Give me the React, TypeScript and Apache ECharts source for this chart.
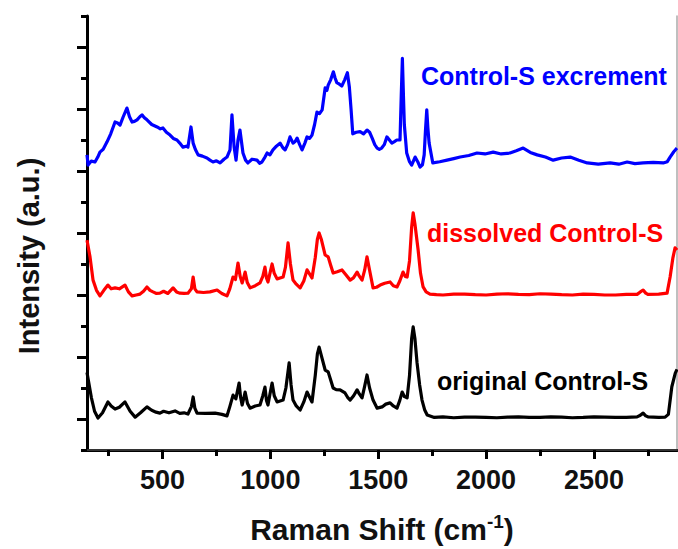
import React, { useEffect, useRef } from "react";
import * as echarts from "echarts";

const xMajorTicks = [500, 1000, 1500, 2000, 2500];
const xMinorTicks = [250, 750, 1250, 1750, 2250, 2750];
const yMajorTicks = [1, 3, 5, 7, 9, 11, 13];

const seriesNames = ["Control-S excrement", "dissolved Control-S", "original Control-S"];
const seriesColors = ["#0000ff", "#ff0000", "#000000"];

const excrementSpectrum: [number, number][] = [
  [150, 9.52], [155, 9.19], [170, 9.32], [187, 9.29], [200, 9.45], [210, 9.61], [225, 9.7],
  [243, 9.94], [260, 10.2], [280, 10.58], [292, 10.55], [303, 10.48], [318, 10.75],
  [335, 11.03], [347, 10.75], [359, 10.58], [370, 10.6], [382, 10.65], [395, 10.75], [405, 10.81],
  [416, 10.72], [428, 10.65], [450, 10.5], [475, 10.42], [490, 10.36], [502, 10.39], [518, 10.25],
  [535, 10.16], [550, 10.05], [567, 10.0], [580, 9.9], [595, 9.77], [610, 9.8], [618, 9.77],
  [632, 10.42], [642, 9.9], [652, 9.7], [665, 9.52], [685, 9.48], [706, 9.42], [720, 9.35],
  [734, 9.29], [750, 9.33], [767, 9.26], [785, 9.38], [799, 9.45], [813, 9.68], [822, 10.81],
  [832, 9.77], [841, 9.35], [850, 10.0], [859, 10.32], [873, 9.58], [885, 9.35], [896, 9.26],
  [915, 9.38], [938, 9.35], [950, 9.25], [961, 9.29], [975, 9.45], [985, 9.58], [998, 9.52],
  [1012, 9.68], [1028, 9.8], [1045, 9.9], [1058, 9.75], [1068, 9.68], [1080, 9.85], [1091, 10.1],
  [1105, 9.9], [1115, 9.95], [1124, 10.06], [1136, 9.85], [1147, 9.68], [1160, 9.9], [1170, 10.1],
  [1182, 10.05], [1193, 10.16], [1205, 10.5], [1216, 10.9], [1228, 10.85], [1240, 10.97],
  [1254, 11.68], [1262, 11.6], [1268, 11.77], [1280, 11.95], [1292, 12.2], [1300, 12.0],
  [1308, 11.85], [1320, 11.8], [1331, 11.74], [1345, 11.95], [1357, 12.17], [1366, 11.72],
  [1374, 11.0], [1382, 10.2], [1398, 10.25], [1416, 10.27], [1432, 10.2], [1448, 10.32],
  [1460, 10.25], [1472, 10.06], [1484, 9.85], [1495, 9.74], [1505, 9.7], [1516, 9.74],
  [1528, 9.85], [1540, 10.1], [1552, 10.0], [1563, 9.9], [1575, 9.95], [1586, 10.0], [1601, 10.0],
  [1607, 11.5], [1612, 12.63], [1617, 11.4], [1621, 10.5], [1632, 9.58], [1645, 9.3],
  [1655, 9.19], [1671, 9.45], [1683, 9.3], [1694, 9.13], [1705, 9.2], [1713, 9.52], [1719, 10.3],
  [1725, 10.97], [1730, 10.4], [1736, 9.9], [1753, 9.26], [1785, 9.3], [1819, 9.35], [1850, 9.4],
  [1880, 9.45], [1920, 9.5], [1958, 9.58], [1995, 9.55], [2033, 9.61], [2070, 9.55],
  [2111, 9.58], [2140, 9.65], [2172, 9.74], [2205, 9.6], [2237, 9.52], [2275, 9.45],
  [2311, 9.35], [2350, 9.42], [2390, 9.45], [2430, 9.35], [2469, 9.26], [2520, 9.22],
  [2575, 9.26], [2615, 9.22], [2654, 9.29], [2690, 9.24], [2728, 9.26], [2775, 9.28],
  [2821, 9.26], [2840, 9.3], [2853, 9.45], [2870, 9.62], [2885, 9.74],
];

const dissolvedSpectrum: [number, number][] = [
  [150, 6.77], [164, 6.23], [178, 5.48], [194, 5.15], [210, 4.97], [228, 5.15], [247, 5.32],
  [262, 5.2], [280, 5.23], [300, 5.2], [326, 5.32], [342, 5.1], [359, 4.97], [378, 5.0],
  [396, 5.03], [412, 5.12], [428, 5.26], [442, 5.15], [456, 5.1], [472, 5.05], [488, 5.06],
  [505, 5.12], [525, 5.05], [549, 5.23], [565, 5.1], [581, 5.06], [600, 5.05], [618, 5.06],
  [634, 5.2], [642, 5.58], [650, 5.2], [660, 5.1], [690, 5.08], [720, 5.1], [753, 5.16],
  [775, 5.05], [799, 4.97], [812, 5.2], [827, 5.58], [838, 5.5], [850, 6.03], [860, 5.6],
  [869, 5.39], [876, 5.55], [883, 5.74], [893, 5.4], [906, 5.23], [930, 5.3], [952, 5.39],
  [965, 5.6], [975, 5.9], [982, 5.55], [989, 5.42], [998, 5.7], [1008, 6.0], [1018, 5.7],
  [1031, 5.52], [1045, 5.55], [1059, 5.58], [1070, 5.9], [1082, 6.68], [1093, 6.0], [1105, 5.48],
  [1120, 5.35], [1138, 5.23], [1155, 5.45], [1170, 5.81], [1180, 5.7], [1193, 5.55], [1208, 6.2],
  [1218, 6.8], [1226, 7.0], [1236, 6.8], [1254, 6.29], [1268, 6.23], [1280, 5.95], [1291, 5.71],
  [1310, 5.75], [1332, 5.81], [1350, 5.65], [1370, 5.48], [1385, 5.55], [1402, 5.74],
  [1413, 5.6], [1425, 5.48], [1437, 5.8], [1448, 6.23], [1460, 5.8], [1476, 5.23], [1492, 5.25],
  [1509, 5.32], [1530, 5.38], [1555, 5.42], [1570, 5.3], [1587, 5.26], [1600, 5.45], [1615, 5.74],
  [1625, 5.6], [1634, 5.58], [1645, 6.1], [1655, 7.2], [1662, 7.65], [1670, 7.3], [1685, 6.45],
  [1696, 5.7], [1708, 5.26], [1722, 5.1], [1740, 5.03], [1770, 5.01], [1800, 5.0], [1850, 5.03],
  [1900, 5.03], [1950, 5.01], [2000, 5.0], [2050, 5.03], [2100, 5.04], [2150, 5.02],
  [2200, 5.01], [2250, 5.04], [2300, 5.03], [2350, 5.01], [2400, 5.0], [2450, 5.03],
  [2500, 5.02], [2550, 5.0], [2600, 5.0], [2650, 5.02], [2700, 5.02], [2715, 5.1],
  [2728, 5.16], [2740, 5.06], [2750, 5.02], [2800, 5.03], [2839, 5.06], [2853, 5.58],
  [2866, 6.2], [2876, 6.52], [2885, 6.45],
];

const originalSpectrum: [number, number][] = [
  [150, 2.5], [156, 2.26], [170, 1.7], [185, 1.25], [201, 1.03], [222, 1.2], [247, 1.55],
  [262, 1.42], [280, 1.32], [300, 1.38], [326, 1.55], [350, 1.25], [373, 1.06], [398, 1.2],
  [428, 1.39], [450, 1.28], [470, 1.22], [488, 1.19], [505, 1.25], [530, 1.2], [558, 1.26],
  [580, 1.18], [600, 1.2], [618, 1.16], [634, 1.4], [642, 1.71], [650, 1.35], [660, 1.19],
  [700, 1.18], [744, 1.19], [775, 1.15], [799, 1.1], [812, 1.4], [827, 1.77], [840, 1.65],
  [855, 2.16], [862, 1.7], [869, 1.45], [876, 1.65], [883, 1.87], [894, 1.5], [906, 1.35],
  [930, 1.42], [952, 1.45], [965, 1.75], [975, 2.03], [982, 1.6], [989, 1.45], [998, 1.8],
  [1008, 2.16], [1018, 1.75], [1031, 1.55], [1045, 1.58], [1059, 1.61], [1072, 2.0],
  [1087, 2.81], [1096, 2.1], [1105, 1.61], [1120, 1.42], [1138, 1.29], [1155, 1.55],
  [1170, 1.87], [1182, 1.7], [1193, 1.55], [1208, 2.4], [1218, 3.1], [1226, 3.32], [1236, 3.05],
  [1254, 2.58], [1268, 2.52], [1280, 2.25], [1291, 2.0], [1305, 1.95], [1323, 1.94],
  [1346, 1.84], [1358, 1.7], [1370, 1.61], [1386, 1.75], [1402, 1.94], [1413, 1.8], [1425, 1.68],
  [1437, 2.05], [1448, 2.42], [1460, 2.0], [1476, 1.61], [1495, 1.35], [1518, 1.39],
  [1535, 1.48], [1555, 1.52], [1570, 1.42], [1587, 1.35], [1600, 1.6], [1611, 1.87],
  [1622, 1.72], [1634, 1.68], [1645, 2.4], [1655, 3.6], [1662, 3.97], [1670, 3.6], [1680, 2.81],
  [1692, 2.1], [1703, 1.61], [1715, 1.3], [1727, 1.13], [1760, 1.05], [1800, 1.07],
  [1850, 1.04], [1900, 1.06], [1950, 1.06], [2000, 1.05], [2050, 1.04], [2100, 1.06],
  [2150, 1.07], [2200, 1.05], [2250, 1.05], [2300, 1.07], [2350, 1.06], [2400, 1.04],
  [2450, 1.05], [2500, 1.07], [2550, 1.06], [2600, 1.05], [2650, 1.05], [2700, 1.07],
  [2715, 1.12], [2728, 1.19], [2740, 1.1], [2750, 1.07], [2800, 1.05], [2830, 1.06],
  [2845, 1.15], [2861, 2.04], [2877, 2.48], [2885, 2.6],
];

const spectra = [excrementSpectrum, dissolvedSpectrum, originalSpectrum];
const labelPositions = [
  { x: 421, y: 76 },
  { x: 427, y: 233 },
  { x: 437, y: 381 },
];

const FONT = "'Liberation Sans', Arial, sans-serif";

export default function App() {
  const ref = useRef<HTMLDivElement>(null);
  useEffect(() => {
    if (!ref.current) return;
    const chart = echarts.init(ref.current, undefined, { renderer: "svg" });
    chart.setOption({
      animation: false,
      backgroundColor: "#ffffff",
      grid: { left: 87, right: 1, top: 16, bottom: 99 },
      xAxis: [
        {
          type: "value",
          min: 150,
          max: 2885,
          position: "bottom",
          axisLine: { show: true, lineStyle: { color: "#000", width: 3 } },
          axisTick: { show: true, customValues: xMajorTicks, length: 9, lineStyle: { width: 3, color: "#000" } },
          axisLabel: {
            customValues: xMajorTicks,
            formatter: (v: number) => String(v),
            fontSize: 27,
            fontWeight: "bold",
            color: "#111",
            fontFamily: FONT,
            margin: 16,
          },
          splitLine: { show: false },
          name: "{a|Raman Shift (cm}{b|-1}{a|)}",
          nameLocation: "middle",
          nameGap: 62,
          nameTextStyle: {
            rich: {
              a: { fontSize: 30, fontWeight: "bold", color: "#111", fontFamily: FONT },
              b: { fontSize: 19, fontWeight: "bold", color: "#111", fontFamily: FONT, padding: [0, 0, 15, 0] },
            },
          },
        },
        {
          type: "value",
          min: 150,
          max: 2885,
          position: "bottom",
          axisLine: { show: false },
          axisTick: { show: true, customValues: xMinorTicks, length: 6, lineStyle: { width: 3, color: "#000" } },
          axisLabel: { show: false },
          splitLine: { show: false },
        },
        {
          type: "value",
          min: 150,
          max: 2885,
          position: "top",
          axisLine: { show: true, lineStyle: { color: "#333", width: 2 } },
          axisTick: { show: false },
          axisLabel: { show: false },
          splitLine: { show: false },
        },
      ],
      yAxis: [
        {
          type: "value",
          min: 0,
          max: 14,
          interval: 1,
          position: "left",
          axisLine: { show: true, lineStyle: { color: "#000", width: 3 } },
          axisTick: { show: true, length: 6, lineStyle: { width: 3, color: "#000" } },
          axisLabel: { show: false },
          splitLine: { show: false },
        },
        {
          type: "value",
          min: 0,
          max: 14,
          position: "left",
          axisLine: { show: false },
          axisTick: { show: true, customValues: yMajorTicks, length: 10, lineStyle: { width: 3, color: "#000" } },
          axisLabel: { show: false, customValues: yMajorTicks },
          splitLine: { show: false },
        },
        {
          type: "value",
          min: 0,
          max: 14,
          position: "right",
          axisLine: { show: true, lineStyle: { color: "#aaa", width: 1.5 } },
          axisTick: { show: false },
          axisLabel: { show: false },
          splitLine: { show: false },
        },
      ],
      series: spectra.map((data, i) => ({
        name: seriesNames[i],
        type: "line",
        xAxisIndex: 0,
        yAxisIndex: 0,
        data,
        showSymbol: false,
        lineStyle: { color: seriesColors[i], width: 3.2, join: "round" },
        itemStyle: { color: seriesColors[i] },
      })),
      graphic: [
        ...seriesNames.map((name, i) => ({
          type: "text",
          x: labelPositions[i].x,
          y: labelPositions[i].y,
          style: {
            text: name,
            fill: seriesColors[i],
            font: `bold 25px ${FONT}`,
            verticalAlign: "middle",
          },
        })),
        {
          type: "text",
          x: 29,
          y: 256,
          rotation: Math.PI / 2,
          style: {
            text: "Intensity (a.u.)",
            fill: "#111",
            font: `bold 29px ${FONT}`,
            align: "center",
            verticalAlign: "middle",
          },
        },
      ],
    });
    return () => chart.dispose();
  }, []);
  return (
    <div
      ref={ref}
      style={{ position: "fixed", left: 0, top: 0, width: 678, height: 549, background: "#fff" }}
    />
  );
}
